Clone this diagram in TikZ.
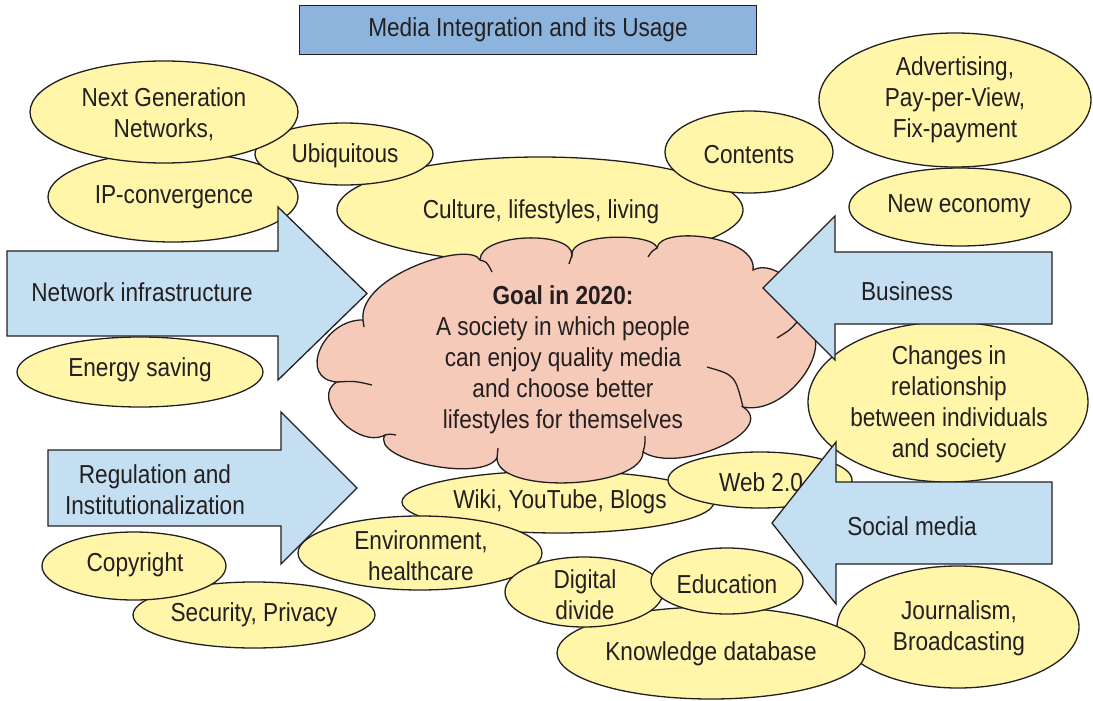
\documentclass[tikz,border=0pt]{standalone}
\usepackage{xcolor}
\usepackage{fontspec}
\setmainfont{Liberation Sans}[FakeStretch=0.87]
\usepackage{tikz}

\definecolor{ink}{HTML}{231F20}
\definecolor{lemon}{HTML}{FFF6A9}
\definecolor{skyfill}{HTML}{C5DFF2}
\definecolor{titlefill}{HTML}{8DB4DC}
\definecolor{salmon}{HTML}{F6CAB9}
\newcommand{\diagfont}{\fontsize{26}{31}\selectfont}

\begin{document}
\begin{tikzpicture}[x=1pt,y=-1pt,line width=1.3pt,every node/.style={font=\diagfont,text=ink,align=center}]
  \tikzstyle{bubble}=[draw=ink,fill=lemon]
  \tikzstyle{bigarrow}=[draw=ink,fill=skyfill]
  \useasboundingbox (0,0) rectangle (1093,701);

  % title
  \node[draw=ink,fill=titlefill,minimum width=457pt,minimum height=49pt,inner sep=0pt] (title) at (528,30) {Media Integration and its Usage};

  % upper left bubbles
  \draw[bubble] (173,197) ellipse (125pt and 45pt);
  \node (ipconv) at (174,197) {IP-convergence};
  \draw[bubble] (540,210) ellipse (203pt and 53pt);
  \node (culture) at (541,212) {Culture, lifestyles, living};
  \draw[bubble] (344,154) ellipse (89pt and 31pt);
  \node (ubiq) at (345,156) {Ubiquitous};
  \draw[bubble] (164,112) ellipse (134pt and 51pt);
  \node (ngn) at (164,114) {Next Generation\\Networks,};
  \draw[bubble] (749,152) ellipse (84pt and 41pt);
  \node (contents) at (749,155) {Contents};

  % upper right bubbles
  \draw[bubble] (955,100) ellipse (136pt and 67pt);
  \node (advert) at (955,100) {Advertising,\\Pay-per-View,\\Fix-payment};
  \draw[bubble] (960,207) ellipse (111pt and 39pt);
  \node (neweco) at (959,206) {New economy};

  \draw[bubble] (140,372) ellipse (123pt and 35pt);
  \node (energy) at (140,370) {Energy saving};
  \draw[bubble] (948,402) ellipse (140pt and 80pt);
  \node (changes) at (949,404) {Changes in\\relationship\\between individuals\\and society};

  % lower bubbles
  \draw[bubble] (958,627) ellipse (121pt and 61pt);
  \node (journal) at (959,628) {Journalism,\\Broadcasting};
  \draw[bubble] (711,653) ellipse (154pt and 46pt);
  \node (knowledge) at (711,654) {Knowledge database};
  \draw[bubble] (558,502) ellipse (156pt and 31pt);
  \node (wiki) at (560,502) {Wiki, YouTube, Blogs};
  \draw[bubble] (760,480) ellipse (92pt and 28pt);
  \node (web) at (761,482) {Web 2.0};
  \draw[bubble] (420,553) ellipse (122pt and 37pt);
  \node (environ) at (421,556) {Environment,\\healthcare};
  \draw[bubble] (584,592) ellipse (79pt and 35pt);
  \node (digital) at (585,595) {Digital\\divide};
  \draw[bubble] (727,581) ellipse (76pt and 33pt);
  \node (educ) at (727,584) {Education};
  \draw[bubble] (254,615) ellipse (121pt and 33pt);
  \node (security) at (254,615) {Security, Privacy};
  \draw[bubble] (134,566) ellipse (92pt and 34pt);
  \node (copyright) at (135,565) {Copyright};

  % goal in the middle
  \draw[draw=ink,fill=salmon] (363,320)
    .. controls (358,275) and (470,240) .. (480,260)
    .. controls (480,233) and (572,230) .. (572,255)
    .. controls (570,232) and (655,233) .. (657,248)
    .. controls (660,225) and (758,236) .. (753,270)
    .. controls (775,258) and (815,295) .. (797,322)
    .. controls (845,332) and (791,417) .. (743,407)
    .. controls (779,430) and (679,475) .. (643,452)
    .. controls (643,489) and (497,495) .. (497,458)
    .. controls (482,483) and (370,460) .. (385,435)
    .. controls (357,450) and (309,397) .. (337,382)
    .. controls (297,379) and (323,319) .. (363,320) -- cycle;
  \draw[ink] (363,320) .. controls (363,323) .. (364,327)
             (480,260) .. controls (487,262) .. (492,272)
             (572,255) .. controls (571,259) .. (569,264)
             (657,248) .. controls (652,251) .. (648,257)
             (797,322) .. controls (790,330) .. (777,338)
             (707,367) .. controls (735,375) .. (743,407)
             (643,452) .. controls (645,445) .. (645,436)
             (497,458) .. controls (497,453) .. (498,448)
             (385,435) .. controls (390,434) .. (396,435)
             (337,382) .. controls (355,381) .. (372,385);
  \node (goal) at (563,360) {\bfseries Goal in 2020:\\A society in which people\\can enjoy quality media\\and choose better\\lifestyles for themselves};

  % arrows
  \draw[bigarrow] (7,251) -- (278,251) -- (278,207) -- (367,293.5) -- (278,380) -- (278,336) -- (7,336) -- cycle;
  \node (netinfra) at (142,292) {Network infrastructure};
  \draw[bigarrow] (48,450) -- (281,450) -- (281,412) -- (357,488) -- (281,564) -- (281,526) -- (48,526) -- cycle;
  \node (regul) at (155,490) {Regulation and\\Institutionalization};
  \draw[bigarrow] (1052,252) -- (835,252) -- (835,216) -- (763,288) -- (835,360) -- (835,324) -- (1052,324) -- cycle;
  \node (business) at (907,291) {Business};
  \draw[bigarrow] (1052,482) -- (836,482) -- (836,442) -- (772,523) -- (836,604) -- (836,564) -- (1052,564) -- cycle;
  \node (social) at (912,526) {Social media};
\end{tikzpicture}
\end{document}
